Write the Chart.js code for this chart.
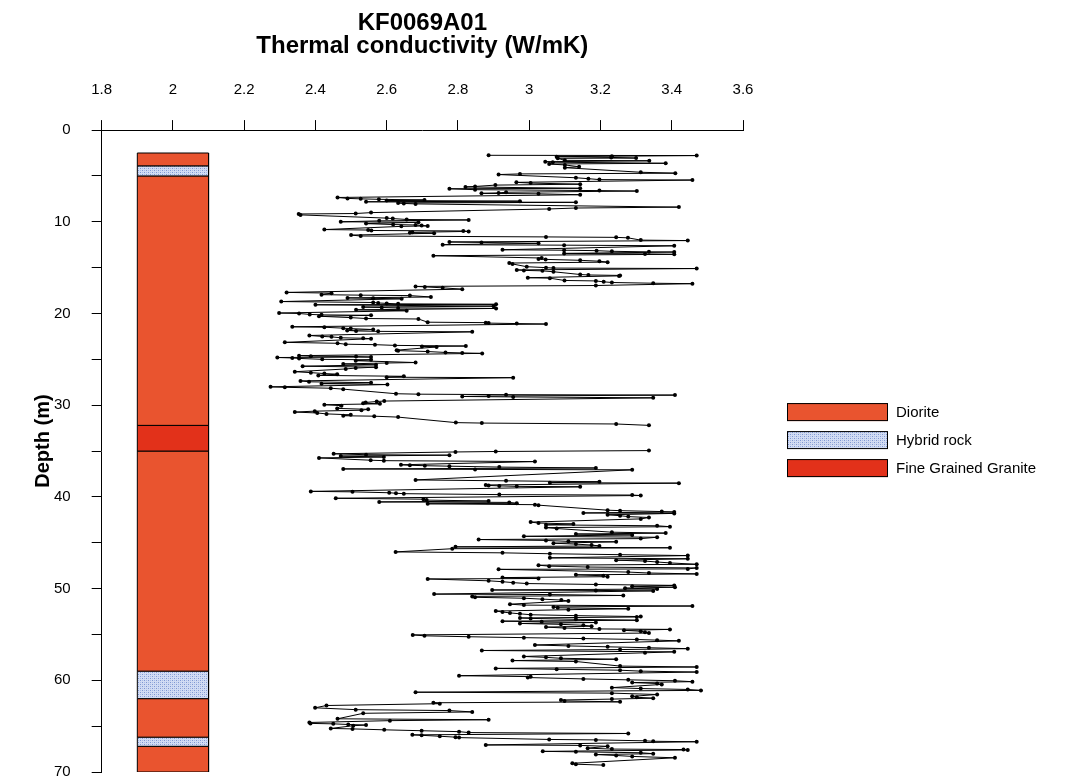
<!DOCTYPE html>
<html>
<head>
<meta charset="utf-8">
<script src="https://cdn.jsdelivr.net/npm/chart.js@4/dist/chart.umd.min.js"></script>
<style>
  html, body { margin: 0; padding: 0; background: #fff; }
</style>
</head>
<body>
<canvas id="logChart" width="1078" height="782"></canvas>
<script>
// thermal conductivity log, depth (m) vs W/mK
const depth = [
  2.75, 2.78, 2.85, 2.9, 2.98, 3.05, 3.08, 3.3, 3.35, 3.45,
  3.5, 3.62, 3.7, 3.8, 4.0, 4.1, 4.6, 4.7, 4.78, 4.85,
  5.2, 5.3, 5.4, 5.45, 5.7, 5.78, 5.9, 6.0, 6.15, 6.2,
  6.35, 6.4, 6.5, 6.6, 6.65, 6.78, 6.85, 6.9, 6.95, 7.05,
  7.35, 7.45, 7.5, 7.55, 7.62, 7.68, 7.75, 7.82, 7.88, 7.95,
  8.0, 8.05, 8.4, 8.5, 8.6, 9.0, 9.1, 9.15, 9.25, 9.6,
  9.65, 9.75, 9.8, 9.9, 10.0, 10.05, 10.2, 10.3, 10.35, 10.4,
  10.45, 10.5, 10.85, 10.9, 10.95, 11.0, 11.05, 11.15, 11.2, 11.25,
  11.45, 11.55, 11.65, 11.7, 11.75, 12.0, 12.05, 12.2, 12.25, 12.35,
  12.5, 12.55, 12.62, 13.05, 13.1, 13.15, 13.22, 13.28, 13.3, 13.45,
  13.5, 13.55, 13.7, 13.95, 14.05, 14.1, 14.2, 14.3, 14.4, 14.5,
  14.6, 14.9, 15.0, 15.05, 15.1, 15.25, 15.3, 15.35, 15.45, 15.75,
  15.8, 15.85, 15.9, 16.1, 16.15, 16.4, 16.45, 16.55, 16.62, 16.7,
  16.75, 16.95, 17.05, 17.1, 17.2, 17.35, 17.7, 17.78, 17.95, 18.0,
  18.05, 18.2, 18.3, 18.35, 18.4, 18.7, 18.8, 18.85, 18.9, 18.95,
  19.0, 19.05, 19.2, 19.3, 19.35, 19.4, 19.45, 19.6, 19.7, 19.95,
  20.0, 20.1, 20.15, 20.2, 20.3, 20.45, 20.55, 20.6, 20.95, 21.0,
  21.05, 21.1, 21.15, 21.45, 21.5, 21.6, 21.65, 21.75, 21.85, 21.9,
  21.95, 22.0, 22.4, 22.5, 22.55, 22.65, 22.7, 22.75, 23.15, 23.25,
  23.35, 23.4, 23.48, 23.55, 23.6, 23.65, 24.0, 24.05, 24.15, 24.25,
  24.3, 24.35, 24.6, 24.65, 24.7, 24.75, 24.8, 24.85, 24.9, 25.0,
  25.05, 25.15, 25.35, 25.4, 25.5, 25.6, 25.75, 25.85, 25.95, 26.05,
  26.35, 26.45, 26.55, 26.62, 26.75, 26.85, 26.95, 27.0, 27.35, 27.45,
  27.55, 27.65, 27.75, 28.0, 28.05, 28.15, 28.25, 28.75, 28.8, 28.85,
  28.9, 29.0, 29.05, 29.1, 29.2, 29.55, 29.6, 29.7, 29.78, 29.85,
  29.95, 30.05, 30.35, 30.45, 30.55, 30.65, 30.75, 30.85, 30.95, 31.05,
  31.15, 31.2, 31.3, 31.9, 31.95, 32.05, 32.2, 33.6, 34.95, 35.05, 35.1,
  35.3, 35.4, 35.45, 35.55, 35.65, 35.75, 36.0, 36.05, 36.15, 36.5,
  36.55, 36.6, 36.65, 36.75, 36.85, 36.95, 37.0, 37.05, 38.15, 38.25,
  38.35, 38.45, 38.5, 38.7, 38.75, 38.8, 38.85, 38.9, 39.4, 39.45,
  39.55, 39.6, 39.65, 39.75, 39.8, 39.85, 40.15, 40.25, 40.35, 40.45,
  40.55, 40.6, 40.7, 40.75, 40.85, 40.9, 41.45, 41.5, 41.6, 41.65,
  41.75, 41.8, 41.95, 42.05, 42.15, 42.25, 42.4, 42.75, 42.85, 42.95,
  43.05, 43.15, 43.25, 43.35, 43.45, 43.85, 43.95, 44.05, 44.15, 44.3,
  44.4, 44.55, 44.65, 44.75, 44.85, 44.9, 45.05, 45.15, 45.25, 45.35,
  45.45, 45.55, 45.65, 46.0, 46.1, 46.2, 46.3, 46.4, 46.65, 46.75,
  46.9, 47.0, 47.1, 47.2, 47.35, 47.45, 47.55, 47.65, 47.75, 47.85,
  47.9, 48.2, 48.3, 48.4, 48.5, 48.6, 48.7, 48.8, 48.9, 48.95,
  49.15, 49.25, 49.35, 49.45, 49.55, 49.65, 49.75, 49.85, 49.95, 50.05,
  50.15, 50.2, 50.25, 50.6, 50.65, 50.75, 50.85, 50.95, 51.05, 51.15,
  51.25, 51.35, 51.7, 51.8, 51.9, 52.0, 52.1, 52.2, 52.3, 52.45,
  52.55, 52.65, 52.75, 52.85, 52.95, 53.05, 53.1, 53.2, 53.25, 53.35,
  53.45, 53.55, 53.62, 53.7, 53.8, 53.9, 54.0, 54.1, 54.2, 54.3,
  54.4, 54.45, 54.55, 54.65, 54.75, 54.85, 55.05, 55.15, 55.25, 55.35,
  55.45, 55.55, 55.62, 55.7, 56.15, 56.25, 56.35, 56.45, 56.55, 56.65,
  56.75, 56.9, 57.0, 57.4, 57.5, 57.6, 57.7, 57.85, 57.95, 58.45,
  58.55, 58.7, 58.8, 58.9, 59.0, 59.1, 59.5, 59.6, 59.7, 59.85,
  59.95, 60.05, 60.15, 60.25, 60.35, 60.45, 60.8, 60.9, 61.0, 61.1,
  61.3, 61.4, 61.55, 61.75, 61.85, 61.95, 62.05, 62.15, 62.25, 62.35,
  62.45, 62.55, 62.75, 63.0, 63.2, 63.3, 63.45, 63.6, 64.2, 64.3,
  64.4, 64.6, 64.7, 64.75, 64.82, 64.88, 64.95, 65.25, 65.3, 65.4,
  65.5, 65.6, 65.7, 65.8, 65.95, 66.0, 66.1, 66.2, 66.25, 66.45,
  66.5, 66.6, 66.65, 66.7, 67.05, 67.1, 67.2, 67.4, 67.5, 67.55,
  67.6, 67.75, 67.8, 67.9, 68.0, 68.1, 68.2, 68.3, 68.45, 69.05,
  69.15, 69.25,
]
const conductivity = [
  2.886, 3.47, 3.232, 3.077, 3.23, 3.3, 3.08, 3.1, 3.337, 3.045,
  3.066, 3.383, 3.056, 3.1, 3.14, 3.1, 3.313, 3.41, 2.974, 2.914,
  3.131, 3.166, 3.197, 3.458, 2.964, 3.004, 3.143, 2.905, 2.848, 2.821,
  3.143, 2.776, 2.848, 3.197, 3.302, 2.935, 2.914, 2.866, 3.026, 3.143,
  2.462, 2.49, 2.527, 2.578, 2.706, 2.6, 2.974, 2.542, 3.131, 2.632,
  2.648, 2.681, 3.42, 3.131, 3.056, 2.556, 2.513, 2.353, 2.358, 2.6,
  2.617, 2.656, 2.83, 2.579, 2.471, 2.689, 2.542, 2.618, 2.681, 2.698,
  2.715, 2.641, 2.425, 2.548, 2.557, 2.815, 2.83, 2.672, 2.665, 2.733,
  2.5, 2.527, 3.047, 3.244, 3.277, 3.313, 3.445, 2.776, 2.866, 3.026,
  2.757, 3.098, 3.407, 2.925, 3.098, 3.189, 3.232, 3.336, 3.407, 3.098,
  3.325, 3.407, 2.731, 3.035, 3.026, 3.046, 3.143, 3.197, 3.22, 2.944,
  2.953, 2.993, 3.047, 3.068, 3.47, 2.965, 2.985, 3.037, 3.068, 3.143,
  3.166, 3.255, 3.252, 2.996, 3.058, 3.099, 3.187, 3.209, 3.232, 3.348,
  3.458, 3.187, 2.681, 2.707, 2.757, 2.812, 2.319, 2.445, 2.417, 2.527,
  2.665, 2.724, 2.49, 2.562, 2.642, 2.304, 2.562, 2.576, 2.6, 2.632,
  2.907, 2.4, 2.9, 2.534, 2.586, 2.632, 2.907, 2.514, 2.656, 2.298,
  2.354, 2.384, 2.417, 2.556, 2.41, 2.499, 2.542, 2.689, 2.715, 2.878,
  2.886, 2.965, 3.047, 2.335, 2.425, 2.478, 2.499, 2.562, 2.489, 2.514,
  2.576, 2.84, 2.383, 2.419, 2.445, 2.471, 2.534, 2.556, 2.314, 2.462,
  2.485, 2.567, 2.623, 2.822, 2.699, 2.74, 2.628, 2.632, 2.715, 2.765,
  2.812, 2.868, 2.354, 2.387, 2.514, 2.556, 2.293, 2.335, 2.354, 2.419,
  2.556, 2.513, 2.681, 2.6, 2.478, 2.57, 2.364, 2.57, 2.513, 2.485,
  2.342, 2.387, 2.425, 2.461, 2.408, 2.648, 2.6, 2.955, 2.358, 2.382,
  2.556, 2.417, 2.602, 2.274, 2.314, 2.443, 2.478, 2.626, 2.689, 2.935,
  3.409, 2.886, 2.812, 2.955, 3.348, 2.593, 2.572, 2.541, 2.534, 2.581,
  2.425, 2.473, 2.461, 2.548, 2.529, 2.398, 2.342, 2.405, 2.431, 2.499,
  2.478, 2.565, 2.632, 2.794, 2.867, 3.244, 3.336, null, 3.336, 2.906, 2.793,
  2.451, 2.542, 2.776, 2.471, 2.592, 2.41, 2.555, 2.592, 3.016, 2.64,
  2.665, 2.707, 2.776, 2.916, 3.187, 2.478, 2.848, 3.289, 2.681, 2.935,
  3.197, 3.058, 3.42, 2.878, 2.886, 2.916, 2.965, 3.143, 2.387, 2.504,
  2.607, 2.626, 2.648, 2.916, 3.289, 3.313, 2.457, 2.703, 2.712, 2.886,
  2.579, 2.944, 2.965, 2.715, 3.016, 3.026, 3.22, 3.255, 3.372, 3.407,
  3.152, 3.407, 3.22, 3.255, 3.278, 3.336, 3.313, 3.004, 3.026, 3.124,
  3.047, 3.359, 3.395, 3.047, 3.077, 3.232, 3.383, 3.131, 3.289, 2.985,
  3.359, 3.313, 2.858, 3.047, 3.11, 3.244, 3.068, 3.131, 3.175, 3.197,
  2.793, 3.395, 2.784, 2.625, 2.925, 3.058, 3.255, 3.445, 3.058, 3.445,
  3.244, 3.325, 3.359, 3.395, 3.47, 3.026, 3.056, 3.164, 3.47, 3.445,
  2.914, 3.278, 3.336, 3.47, 3.131, 3.208, 3.22, 2.925, 3.026, 2.715,
  2.886, 2.925, 2.955, 2.993, 3.187, 3.407, 3.289, 3.409, 3.269, 3.359,
  2.896, 3.187, 3.348, 2.733, 3.058, 3.264, 2.84, 2.848, 2.985, 3.037,
  3.09, 3.11, 2.946, 2.985, 3.458, 3.068, 3.08, 3.278, 3.11, 2.906,
  2.925, 2.946, 2.974, 3.004, 3.131, 3.313, 3.302, 2.974, 3.004, 3.131,
  3.302, 2.925, 3.035, 3.187, 2.974, 3.089, 3.152, 3.175, 3.047, 3.099,
  3.197, 3.395, 3.266, 3.313, 3.325, 3.336, 2.673, 2.706, 2.83, 2.985,
  3.152, 3.302, 3.359, 3.42, 3.016, 3.11, 3.22, 3.336, 3.445, 3.255,
  2.867, 3.407, 3.325, 2.985, 3.047, 3.089, 3.244, 2.953, 3.131, 3.255,
  3.47, 2.906, 3.077, 3.255, 3.313, 3.47, 2.803, 3.004, 2.996, 3.152,
  3.278, 3.409, 3.458, 3.289, 3.359, 3.372, 3.232, 3.313, 3.445, 3.482,
  2.681, 3.232, 3.359, 3.289, 3.302, 3.348, 3.232, 3.089, 3.099, 3.255,
  2.731, 2.749, 2.431, 2.399, 2.513, 2.776, 2.84, 2.534, 2.462, 2.886,
  2.609, 2.383, 2.386, 2.45, 2.492, 2.542, 2.506, 2.443, 2.504, 2.593,
  2.698, 2.803, 2.83, 3.278, 2.672, 2.698, 2.749, 2.793, 2.803, 3.056,
  3.187, 3.325, 3.348, 3.47, 2.878, 3.143, 3.22, 3.164, 3.232, 3.433,
  3.445, 3.038, 3.131, 3.313, 3.348, 3.187, 3.244, 3.289, 3.409, 3.121,
  3.131, 3.208,
]

// rock column
const rockNames = ['Diorite', 'Hybrid rock', 'Fine Grained Granite']
const layerTop = [2.5, 3.9, 5.0, 32.2, 35.0, 59.0, 62.0, 66.2, 67.2]
const layerBottom = [3.9, 5.0, 32.2, 35.0, 59.0, 62.0, 66.2, 67.2, 70]
const layerRock = [0, 1, 0, 2, 0, 1, 0, 1, 0]

const xTickValues = [1.8, 2, 2.2, 2.4, 2.6, 2.8, 3, 3.2, 3.4, 3.6]
const xTickLabels = ['1.8', '2', '2.2', '2.4', '2.6', '2.8', '3', '3.2', '3.4', '3.6']
const yTickValues = [0, 5, 10, 15, 20, 25, 30, 35, 40, 45, 50, 55, 60, 65, 70]
const yTickLabels = ['0', '', '10', '', '20', '', '30', '', '40', '', '50', '', '60', '', '70']

const canvas = document.getElementById('logChart')
const ctx = canvas.getContext('2d')

// dotted blue fill for the hybrid rock
function hybridPattern() {
    const tile = document.createElement('canvas')
    tile.width = 4
    tile.height = 4
    const g = tile.getContext('2d')
    g.fillStyle = '#d2dcf3'
    g.fillRect(0, 0, 4, 4)
    g.fillStyle = '#7f97d2'
    g.fillRect(0, 0, 1, 1)
    g.fillRect(2, 2, 1, 1)
    g.fillStyle = '#a9bbe6'
    g.fillRect(2, 0, 1, 1)
    g.fillRect(0, 2, 1, 1)
    return ctx.createPattern(tile, 'repeat')
}

const rockFill = ['#e9542f', hybridPattern(), '#e2311a']
const colLeft = 1.9
const colRight = 2.1

const layerSets = layerTop.map((top, i) => ({
    label: rockNames[layerRock[i]],
    data: [
        { x: colLeft, y: top },
        { x: colRight, y: top },
        { x: colRight, y: layerBottom[i] },
        { x: colLeft, y: layerBottom[i] },
        { x: colLeft, y: top },
    ],
    showLine: true,
    fill: 'shape',
    backgroundColor: rockFill[layerRock[i]],
    borderColor: '#000',
    borderWidth: 1,
    pointRadius: 0,
    tension: 0,
}))

const tcSet = {
    label: 'Thermal conductivity',
    data: depth.map((d, i) => ({ x: conductivity[i], y: d })),
    showLine: true,
    spanGaps: false,
    borderColor: '#000',
    borderWidth: 1,
    pointRadius: 2,
    pointBackgroundColor: '#000',
    pointBorderWidth: 0,
    tension: 0,
}

// depth title and rock legend, placed off the plot area
const sideText = {
    id: 'sideText',
    afterDraw(chart) {
        const c = chart.ctx
        const area = chart.chartArea
        c.save()
        c.fillStyle = '#000'
        c.font = 'bold 20px Arial, "Liberation Sans", sans-serif'
        c.textAlign = 'center'
        c.textBaseline = 'middle'
        c.translate(area.left - 58, area.top + 311)
        c.rotate(-Math.PI / 2)
        c.fillText('Depth (m)', 0, 0)
        c.restore()

        const left = area.right + 44
        c.save()
        rockNames.forEach((name, i) => {
            const top = area.top + 273 + i * 28
            c.fillStyle = rockFill[i]
            c.fillRect(left, top, 101, 18)
            c.strokeStyle = '#000'
            c.lineWidth = 1
            c.strokeRect(left + 0.5, top + 0.5, 100, 17)
            c.fillStyle = '#000'
            c.font = '15px Arial, "Liberation Sans", sans-serif'
            c.textBaseline = 'middle'
            c.textAlign = 'left'
            c.fillText(name, left + 109, top + 9.5)
        })
        c.restore()
    },
}

Chart.defaults.font.family = 'Arial, "Liberation Sans", sans-serif'
Chart.defaults.color = '#000'

const logChart = new Chart(ctx, {
    type: 'scatter',
    data: { datasets: [...layerSets, tcSet] },
    options: {
        responsive: false,
        animation: false,
        layout: { padding: { left: 33, top: 12, right: 335, bottom: 10 } },
        scales: {
            x: {
                type: 'linear',
                position: 'top',
                min: 1.8,
                max: 3.6,
                afterBuildTicks: (s) => { s.ticks = xTickValues.map((v) => ({ value: v })) },
                ticks: {
                    callback: (v, i) => xTickLabels[i],
                    font: { size: 15 },
                    padding: 21,
                    maxRotation: 0,
                    autoSkip: false,
                },
                grid: { drawOnChartArea: false, tickLength: 10, color: '#000' },
                border: { color: '#000' },
                title: {
                    display: true,
                    text: ['KF0069A01', 'Thermal conductivity (W/mK)'],
                    font: { size: 24, weight: 'bold', lineHeight: 0.96 },
                    padding: { top: 0, bottom: 2 },
                },
            },
            y: {
                type: 'linear',
                reverse: true,
                min: 0,
                max: 70,
                afterBuildTicks: (s) => { s.ticks = yTickValues.map((v) => ({ value: v })) },
                afterFit: (s) => {
                    s.paddingTop = 9
                    s.paddingBottom = 9
                },
                ticks: {
                    callback: (v, i) => yTickLabels[i],
                    font: { size: 15 },
                    padding: 21,
                    autoSkip: false,
                },
                grid: { drawOnChartArea: false, tickLength: 10, color: '#000' },
                border: { color: '#000' },
            },
        },
        plugins: {
            legend: { display: false },
            tooltip: { enabled: false },
        },
    },
    plugins: [sideText],
})
</script>
</body>
</html>
